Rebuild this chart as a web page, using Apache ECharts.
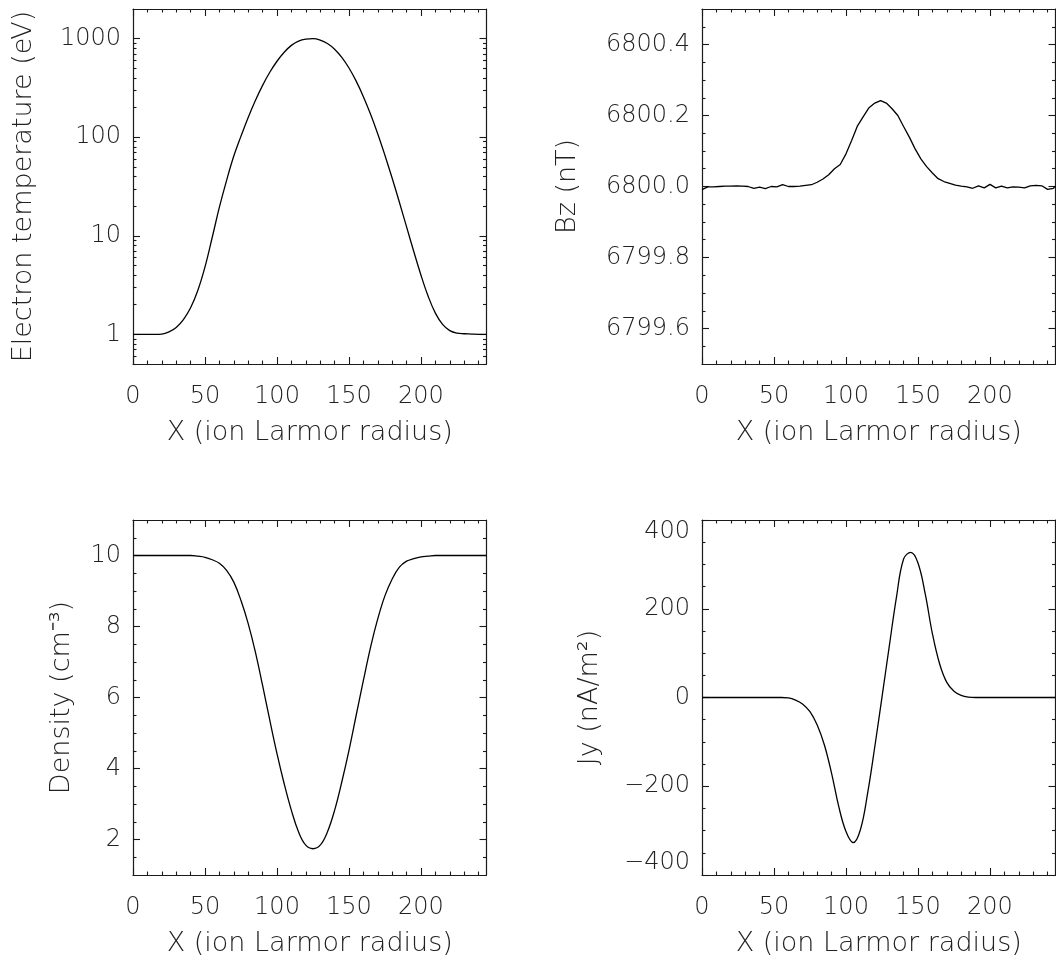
<!DOCTYPE html>
<html>
<head>
<meta charset="utf-8">
<script src="https://cdn.jsdelivr.net/npm/echarts@6/dist/echarts.min.js"></script>
<style>
html,body{margin:0;padding:0;background:#fff;}
#chart{width:1056px;height:961px;}
</style>
</head>
<body>
<div id="chart"></div>
<script>
// ---------------- data ----------------
const xProfile = [0,5,10,15,20,25,30,35,40,45,50,55,60,65,70,75,80,85,90,95,100,105,110,115,120,125,130,135,140,145,150,155,160,165,170,175,180,185,190,195,200,205,210,215,220,225,230,235,240,245,245.5];

const electronTemp = [1.00,1.00,1.00,1.00,1.005,1.057,1.172,1.409,1.858,2.78,4.83,9.6,19.5,36.5,64.4,102.6,158.9,236,336,456,590,728,855,944,989,1000,968,893,782,646,504,371,258,171,108,65.3,38.3,21.9,12.3,6.92,3.98,2.43,1.64,1.26,1.09,1.028,1.014,1.007,1.0,1.0,1.0];

const density = [10,10,10,10,10,10,10,10,10,9.98,9.95,9.88,9.78,9.58,9.25,8.73,8.08,7.28,6.34,5.36,4.42,3.57,2.82,2.21,1.84,1.74,1.84,2.21,2.82,3.62,4.51,5.50,6.48,7.42,8.22,8.87,9.34,9.67,9.84,9.91,9.96,9.98,10,10,10,10,10,10,10,10,10];

const currentJy = [0,0,0,0,0,0,0,0,0,0,0,0,-1,-6,-15,-32,-62,-107,-171,-246,-302,-327,-298,-216,-111,1,114,225,312,327,303,234,144,76,34,14,5,1,0,0,0,0,0,0,0,0,0,0,0,0,0];

const xBz = [0,4,8,12,16,20,24,28,32,36,40,44,48,52,56,60,64,68,72,76,80,84,88,92,96,100,104,108,112,116,120,124,128,132,136,140,144,148,152,156,160,164,168,172,176,180,184,188,192,196,200,204,208,212,216,220,224,228,232,236,240,244,245.5];

const bz = [6799.991,6799.999,6799.999,6800.000,6800.001,6800.001,6800.002,6800.001,6800.000,6799.995,6799.998,6799.994,6800.000,6799.999,6800.005,6800.000,6800.000,6800.001,6800.003,6800.005,6800.012,6800.021,6800.033,6800.050,6800.062,6800.092,6800.130,6800.171,6800.197,6800.222,6800.235,6800.242,6800.235,6800.219,6800.200,6800.169,6800.139,6800.106,6800.078,6800.056,6800.038,6800.022,6800.014,6800.009,6800.004,6800.001,6799.999,6799.995,6800.002,6799.996,6800.006,6799.996,6800.001,6799.996,6799.999,6799.998,6799.996,6800.002,6800.003,6800.002,6799.992,6799.995,6800.001];

// tick values
const xMajorTicks = [0,50,100,150,200];
const xMinorTicks = [10,20,30,40,60,70,80,90,110,120,130,140,160,170,180,190,210,220,230,240];
const tempMajorTicks = [1,10,100,1000];
const tempMinorTicks = [0.5,0.6,0.7,0.8,0.9,2,3,4,5,6,7,8,9,20,30,40,50,60,70,80,90,200,300,400,500,600,700,800,900];
const bzMajorTicks = [6799.6,6799.8,6800.0,6800.2,6800.4];
const bzMinorTicks = [6799.55,6799.65,6799.7,6799.75,6799.85,6799.9,6799.95,6800.05,6800.1,6800.15,6800.25,6800.3,6800.35,6800.45];
const densMajorTicks = [2,4,6,8,10];
const densMinorTicks = [1.5,2.5,3,3.5,4.5,5,5.5,6.5,7,7.5,8.5,9,9.5,10.5];
const jyMajorTicks = [-400,-200,0,200,400];
const jyMinorTicks = [-350,-300,-250,-150,-100,-50,50,100,150,250,300,350];

const X_MAX = 245.5;
const xTitle = 'X (ion Larmor radius)';

// ---------------- styling helpers ----------------
const FONT = "'DejaVu Sans', sans-serif";
const TXT = '#222';
const LINE = '#1a1a1a';
const MAJ = 7, MIN = 3.5;

function xAxisSet(g, name) {
  const base = (pos, ticks, len, lab, line) => ({
    type: 'value', gridIndex: g, position: pos, min: 0, max: X_MAX,
    axisLine: {show: line, onZero: false, lineStyle: {color: LINE, width: 1.2}},
    axisTick: {show: true, inside: true, length: len, customValues: ticks, lineStyle: {color: LINE, width: 1.1}},
    axisLabel: lab ? {show: true, customValues: xMajorTicks, margin: 21, fontSize: 24, fontWeight: 200,
      color: TXT, fontFamily: FONT, formatter: v => String(v)} : {show: false},
    splitLine: {show: false},
    name: lab ? name : '', nameLocation: 'middle', nameGap: 55,
    nameTextStyle: {fontSize: 27, fontWeight: 200, color: TXT, fontFamily: FONT}
  });
  return [
    base('bottom', xMajorTicks, MAJ, true, true),
    base('bottom', xMinorTicks, MIN, false, false),
    base('top', xMajorTicks, MAJ, false, true),
    base('top', xMinorTicks, MIN, false, false)
  ];
}

function yAxisSet(g, scale, major, minor, fmt, name, nameGap, endAlign) {
  const base = (pos, ticks, len, lab, line) => Object.assign({
    gridIndex: g, position: pos,
    axisLine: {show: line, onZero: false, lineStyle: {color: LINE, width: 1.2}},
    axisTick: {show: true, inside: true, length: len, customValues: ticks, lineStyle: {color: LINE, width: 1.1}},
    axisLabel: lab ? Object.assign({show: true, customValues: major, margin: 12, fontSize: 24, fontWeight: 200,
      color: TXT, fontFamily: FONT, formatter: fmt}, endAlign ? {verticalAlignMinLabel: 'bottom', verticalAlignMaxLabel: 'top'} : {}) : {show: false},
    splitLine: {show: false}, minorTick: {show: false},
    name: lab ? name : '', nameLocation: 'middle', nameGap: nameGap, nameRotate: 90,
    nameTextStyle: {fontSize: 27, fontWeight: 200, color: TXT, fontFamily: FONT}
  }, scale);
  return [
    base('left', major, MAJ, true, true),
    base('left', minor, MIN, false, false),
    base('right', major, MAJ, false, true),
    base('right', minor, MIN, false, false)
  ];
}

const grids = [
  {left: 133, top: 9, width: 353.5, height: 355},
  {left: 702, top: 9, width: 353.5, height: 355},
  {left: 133, top: 520, width: 353.5, height: 355},
  {left: 702, top: 520, width: 353.5, height: 355}
].map(g => Object.assign({containLabel: false, outerBoundsMode: 'none'}, g));

const xAxes = [].concat(xAxisSet(0, xTitle), xAxisSet(1, xTitle), xAxisSet(2, xTitle), xAxisSet(3, xTitle));
const yAxes = [].concat(
  yAxisSet(0, {type: 'log', logBase: 10, min: 0.5, max: 2000}, tempMajorTicks, tempMinorTicks, v => String(Math.round(v)), 'Electron temperature (eV)', 96),
  yAxisSet(1, {type: 'value', min: 6799.5, max: 6800.5}, bzMajorTicks, bzMinorTicks, v => Number(v).toFixed(1), 'Bz (nT)', 121),
  yAxisSet(2, {type: 'value', min: 1, max: 11}, densMajorTicks, densMinorTicks, v => String(Math.round(v)), 'Density (cm\u207B\u00B3)', 58),
  yAxisSet(3, {type: 'value', min: -400, max: 400}, jyMajorTicks, jyMinorTicks, v => (v < 0 ? '\u2212' + Math.abs(Math.round(v)) : String(Math.round(v))), 'Jy (nA/m\u00B2)', 99, true)
);

function lineSeries(g, xs, ys, smooth) {
  return {
    type: 'line', xAxisIndex: g * 4, yAxisIndex: g * 4,
    data: xs.map((x, i) => [x, ys[i]]),
    symbol: 'none', showSymbol: false, smooth: smooth, clip: true,
    lineStyle: {color: '#000', width: 1.3}, silent: true
  };
}

const chart = echarts.init(document.getElementById('chart'), null, {renderer: 'canvas'});
chart.setOption({
  backgroundColor: '#fff',
  animation: false,
  grid: grids,
  xAxis: xAxes,
  yAxis: yAxes,
  series: [
    lineSeries(0, xProfile, electronTemp, 0.4),
    lineSeries(1, xBz, bz, false),
    lineSeries(2, xProfile, density, 0.4),
    lineSeries(3, xProfile, currentJy, 0.4)
  ]
});
</script>
</body>
</html>
